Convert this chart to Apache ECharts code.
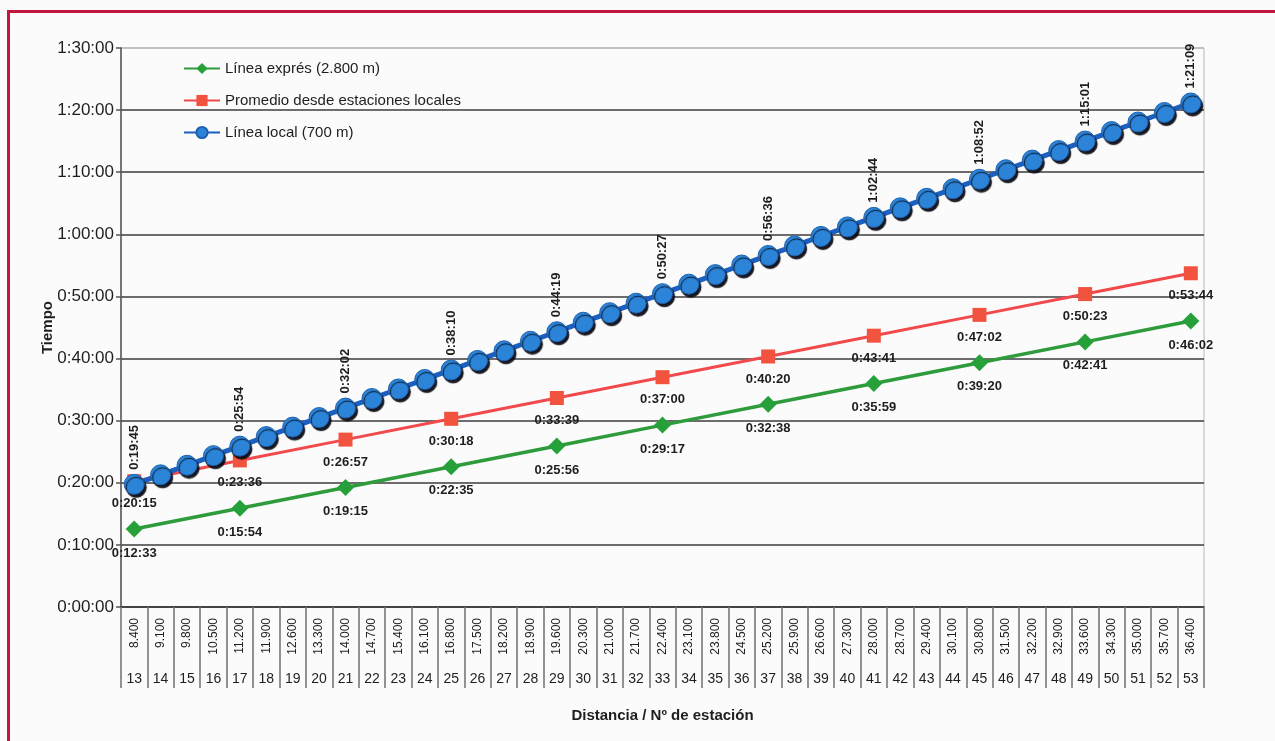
<!DOCTYPE html>
<html>
<head>
<meta charset="utf-8">
<script src="https://cdn.jsdelivr.net/npm/echarts@6/dist/echarts.min.js"></script>
<style>
  html, body { margin: 0; padding: 0; background: #fbfbfb; }
  #frame { position: absolute; left: 7px; top: 10px; right: -4px; bottom: -4px;
           border-top: 3px solid #c2163f; border-left: 3px solid #c2163f; }
  #chart { position: absolute; left: 0; top: 0; width: 1275px; height: 741px; }
</style>
</head>
<body>
<div id="frame"></div>
<div id="chart"></div>
<script>
// Distance (m) and station number for each stop
const distances = ['8.400','9.100','9.800','10.500','11.200','11.900','12.600','13.300','14.000','14.700',
  '15.400','16.100','16.800','17.500','18.200','18.900','19.600','20.300','21.000','21.700',
  '22.400','23.100','23.800','24.500','25.200','25.900','26.600','27.300','28.000','28.700',
  '29.400','30.100','30.800','31.500','32.200','32.900','33.600','34.300','35.000','35.700','36.400'];
const stations = [13,14,15,16,17,18,19,20,21,22,23,24,25,26,27,28,29,30,31,32,33,
  34,35,36,37,38,39,40,41,42,43,44,45,46,47,48,49,50,51,52,53];

// Local line (700 m): travel time at every station
const localTimes = ['0:19:45','0:21:17','0:22:49','0:24:22','0:25:54','0:27:26','0:28:58','0:30:30',
  '0:32:02','0:33:34','0:35:06','0:36:38','0:38:10','0:39:42','0:41:15','0:42:47','0:44:19',
  '0:45:51','0:47:23','0:48:55','0:50:27','0:51:59','0:53:31','0:55:04','0:56:36','0:58:08',
  '0:59:40','1:01:12','1:02:44','1:04:16','1:05:48','1:07:20','1:08:52','1:10:24','1:11:57',
  '1:13:29','1:15:01','1:16:33','1:18:05','1:19:37','1:21:09'];

// Express line (2.800 m) stops and the average from local stations
const expressStations = [13,17,21,25,29,33,37,41,45,49,53];
const expressTimes = ['0:12:33','0:15:54','0:19:15','0:22:35','0:25:56','0:29:17',
  '0:32:38','0:35:59','0:39:20','0:42:41','0:46:02'];
const averageTimes = ['0:20:15','0:23:36','0:26:57','0:30:18','0:33:39','0:37:00',
  '0:40:20','0:43:41','0:47:02','0:50:23','0:53:44'];

const yMax = 5400, yStep = 600;   // 1:30:00 in steps of 10 minutes

function toSec(t) {
  const p = t.split(':').map(Number);
  return p[0] * 3600 + p[1] * 60 + p[2];
}
function fmt(s) {
  const h = Math.floor(s / 3600), m = Math.floor((s % 3600) / 60), ss = s % 60;
  return h + ':' + String(m).padStart(2, '0') + ':' + String(ss).padStart(2, '0');
}

const FONT = '"Liberation Sans", Arial, sans-serif';
const INK = '#1e1e1e';

// dark gridlines, with the topmost one drawn light like the plot frame
const gridCount = yMax / yStep + 1;
const gridColors = Array.from({ length: gridCount }, (_, i) => i === gridCount - 1 ? '#b8b8b8' : '#3c3c3c');

const localData = localTimes.map((t, i) => ({
  value: toSec(t),
  label: { show: expressStations.includes(stations[i]) }
}));
const expressData = expressStations.map((s, i) => [stations.indexOf(s), toSec(expressTimes[i])]);
const averageData = expressStations.map((s, i) => [stations.indexOf(s), toSec(averageTimes[i])]);

const belowLabel = (arr) => ({
  show: true, position: 'bottom', distance: 9,
  fontFamily: FONT, fontSize: 13, fontWeight: 'bold', color: INK,
  formatter: p => arr[p.dataIndex]
});

const chart = echarts.init(document.getElementById('chart'), null, { renderer: 'canvas' });
chart.setOption({
  backgroundColor: 'transparent',
  animation: false,
  textStyle: { fontFamily: FONT },
  grid: {
    left: 121, right: 71, top: 48, bottom: 134,
    show: true, borderColor: '#b8b8b8', borderWidth: 1,
    containLabel: false, outerBoundsMode: 'none'
  },
  legend: {
    orient: 'vertical', left: 178, top: 56,
    itemWidth: 36, itemHeight: 14, itemGap: 17,
    textStyle: { fontFamily: FONT, fontSize: 15, color: INK },
    data: ['Línea exprés (2.800 m)', 'Promedio desde estaciones locales', 'Línea local (700 m)']
  },
  xAxis: [{
    type: 'category', data: distances, boundaryGap: true, position: 'bottom',
    axisLine: { lineStyle: { color: '#3a3a3a', width: 1.5 } },
    axisTick: { show: true, length: 81, lineStyle: { color: '#707070', width: 1.5 } },
    axisLabel: { rotate: 90, margin: 11, fontSize: 12, color: INK, fontFamily: FONT, interval: 0 },
    splitLine: { show: false }
  }, {
    type: 'category', data: stations, boundaryGap: true, position: 'bottom', offset: 56,
    axisLine: { show: false }, axisTick: { show: false },
    axisLabel: { margin: 9, fontSize: 14, color: INK, fontFamily: FONT, interval: 0 },
    name: 'Distancia / Nº de estación', nameLocation: 'middle', nameGap: 45,
    nameTextStyle: { fontFamily: FONT, fontSize: 15, fontWeight: 'bold', color: INK }
  }],
  yAxis: {
    type: 'value', min: 0, max: yMax, interval: yStep,
    name: 'Tiempo', nameLocation: 'middle', nameGap: 66, nameMoveOverlap: false,
    nameTextStyle: { fontFamily: FONT, fontSize: 15, fontWeight: 'bold', color: INK },
    axisLine: { show: true, lineStyle: { color: '#555', width: 1.5 } },
    axisTick: { show: true, length: 5, lineStyle: { color: '#555', width: 1.5 } },
    axisLabel: { margin: 7, fontSize: 17, color: INK, fontFamily: FONT, formatter: v => fmt(v) },
    splitLine: { lineStyle: { color: gridColors, width: 1.5 } }
  },
  series: [{
    name: 'Línea exprés (2.800 m)', type: 'line', data: expressData,
    symbol: 'diamond', symbolSize: 17, z: 3,
    lineStyle: { color: '#2e9b3c', width: 3.5 },
    itemStyle: { color: '#26a13a' },
    label: belowLabel(expressTimes)
  }, {
    name: 'Promedio desde estaciones locales', type: 'line', data: averageData,
    symbol: 'rect', symbolSize: 14, z: 4,
    lineStyle: { color: '#f24a4c', width: 3 },
    itemStyle: { color: '#f2533f' },
    label: belowLabel(averageTimes)
  }, {
    name: 'Línea local (700 m)', type: 'line', data: localData,
    symbol: 'circle', symbolSize: 20, z: 5,
    lineStyle: { color: '#1b5fc0', width: 5 },
    itemStyle: { color: '#2b84d8', borderColor: '#1d5fae', borderWidth: 1,
                 shadowColor: 'rgba(10,10,20,0.95)', shadowOffsetX: 2, shadowOffsetY: 3, shadowBlur: 1 },
    label: {
      position: 'top', distance: 4, rotate: 90, align: 'left', verticalAlign: 'middle',
      fontFamily: FONT, fontSize: 13, fontWeight: 'bold', color: INK,
      formatter: p => localTimes[p.dataIndex]
    }
  }]
});
</script>
</body>
</html>
